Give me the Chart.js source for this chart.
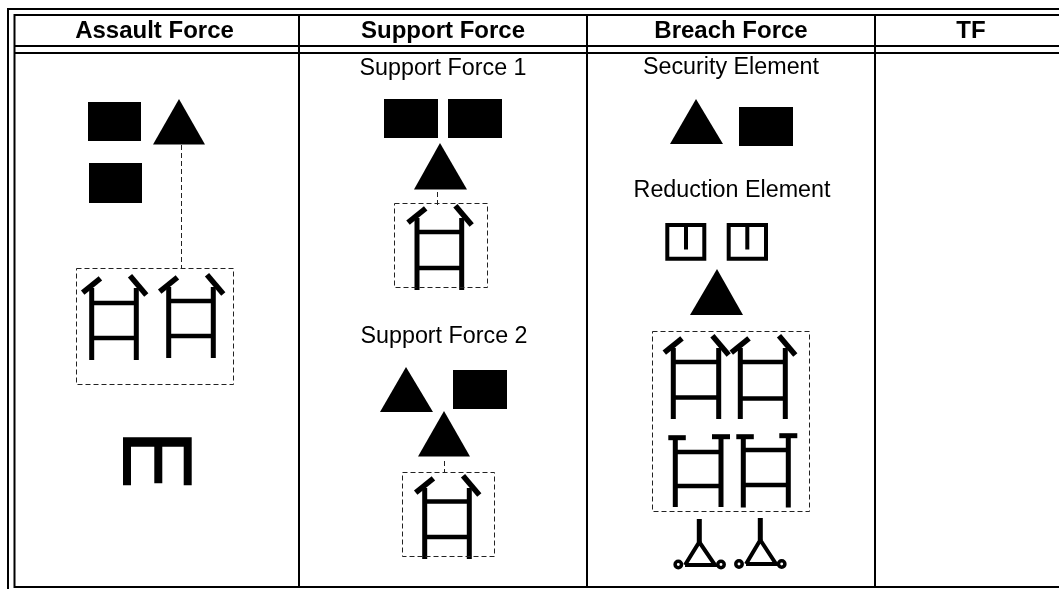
<!DOCTYPE html>
<html>
<head>
<meta charset="utf-8">
<title>Force table</title>
<script src="https://cdn.jsdelivr.net/npm/chart.js@4"></script>
<style>
  html, body { margin: 0; padding: 0; background: #fff; }
  canvas { display: block; }
</style>
</head>
<body>
<canvas id="forceChart" width="1059" height="589"></canvas>
<script>
// Table text
const headerLabels = ["Assault Force", "Support Force", "Breach Force", "TF"];
const headerX = [154.5, 443, 731, 971];
const cellLabels = ["Support Force 1", "Support Force 2", "Security Element", "Reduction Element"];
const cellLabelX = [443, 444, 731, 732];
const cellLabelY = [75, 343, 74, 197];

// Table rules
const columnRules = [299, 587, 875];
const rowRules = [15, 46, 53, 587];

// Filled units: left, right, top, bottom
const rectLeft = [88, 89, 384, 448, 453, 739];
const rectRight = [141, 142, 438, 502, 507, 793];
const rectTop = [102, 163, 99, 99, 370, 107];
const rectBottom = [141, 203, 138, 138, 409, 146];

// Filled triangles: apex and base
const triApexX = [179, 440, 406, 444, 696, 717];
const triApexY = [99, 143, 367, 411, 99, 269];
const triLeft = [153, 414, 380, 418, 670, 690];
const triRight = [205, 467, 433, 470, 723, 743];
const triBase = [144.5, 189.5, 412, 456.5, 144, 315];

// Dashed groups: left, right, top, bottom
const boxLeft = [76.5, 394.5, 402.5, 652.5];
const boxRight = [233.5, 487.5, 494.5, 809.5];
const boxTop = [268.5, 203.5, 472.5, 331.5];
const boxBottom = [384.5, 287.5, 556.5, 511.5];

// Dashed links: x, top, bottom
const linkX = [181.5, 437.5, 444.5];
const linkTop = [145, 192, 461];
const linkBottom = [268, 205, 473];

// Ladders with angled tops
const ladderLeft = [91.7, 168.7, 417, 424.7, 673.3, 740.3];
const ladderRight = [136.3, 213.3, 461.7, 469.3, 718.7, 785.3];
const ladderTop = [288, 287, 218, 488, 348, 348];
const ladderBottom = [360, 358, 290, 559, 419, 419];
const ladderRung1 = [303, 301, 232, 501.5, 362, 362];
const ladderRung2 = [338, 336, 268, 537, 397.5, 398.5];

// Ladders with flat tops
const flatLeft = [675.3, 743.3];
const flatRight = [721, 788.3];
const flatLeftBar = [437.7, 436.7];
const flatRightBar = [436.7, 435.7];
const flatBottom = [507, 507.5];
const flatRung1 = [452, 450];
const flatRung2 = [486, 485];

// Boxes with a stem
const stemBoxLeft = [667.3, 728.7];
const stemBoxRight = [704.3, 766];
const stemBoxTop = [225, 225];
const stemBoxBottom = [258.7, 258.7];
const stemBoxStem = [686, 747.3];
const stemBoxStemEnd = [249.5, 249.5];

// Wheeled triangles
const wheelStemX = [699.3, 760.3];
const wheelStemTop = [519, 518];
const wheelApexY = [542, 540];
const wheelBaseLeft = [685, 746];
const wheelBaseRight = [715, 776];
const wheelBaseY = [565, 564];
const wheelLeftX = [678.3, 739];
const wheelRightX = [721, 781.7];
const wheelY = [564.5, 564];

// Comb outline
const combX = [123, 191.7, 191.7, 183.7, 183.7, 162.3, 162.3, 154.3, 154.3, 131, 131, 123];
const combY = [437.3, 437.3, 485.3, 485.3, 446.7, 446.7, 483.3, 483.3, 446.7, 446.7, 485.3, 485.3];

const datasets = [];

function addLine(points, width, dash) {
    datasets.push({
        data: points.map(p => ({ x: p[0], y: p[1] })),
        showLine: true,
        borderColor: dash ? "#222" : "#000",
        borderWidth: width,
        borderDash: dash || [],
        borderCapStyle: "butt",
        borderJoinStyle: "miter",
        pointRadius: 0,
        fill: false,
        clip: false
    });
}

function addShape(points) {
    datasets.push({
        data: points.map(p => ({ x: p[0], y: p[1] })),
        showLine: true,
        borderColor: "transparent",
        borderWidth: 1,
        backgroundColor: "#000",
        pointRadius: 0,
        fill: "shape",
        clip: false
    });
}

// Wheels go first so they sit over the triangle lines
wheelLeftX.forEach((x, i) => {
    datasets.push({
        data: [{ x: x, y: wheelY[i] }, { x: wheelRightX[i], y: wheelY[i] }],
        showLine: false,
        pointRadius: 3.2,
        pointBorderWidth: 3.5,
        pointBorderColor: "#000",
        pointBackgroundColor: "#fff",
        clip: false
    });
});

// Table rules
addLine([[7, 9], [1059, 9]], 2);
addLine([[8, 8], [8, 589]], 2);
addLine([[14.5, 14], [14.5, 588]], 2);
rowRules.forEach(y => addLine([[14, y], [1059, y]], 2));
columnRules.forEach(x => addLine([[x, 15], [x, 588]], 2));

rectLeft.forEach((x, i) => {
    addShape([[x, rectTop[i]], [rectRight[i], rectTop[i]], [rectRight[i], rectBottom[i]], [x, rectBottom[i]]]);
});

triApexX.forEach((x, i) => {
    addShape([[x, triApexY[i]], [triRight[i], triBase[i]], [triLeft[i], triBase[i]]]);
});

boxLeft.forEach((x, i) => {
    addLine([[x, boxTop[i]], [boxRight[i], boxTop[i]], [boxRight[i], boxBottom[i]], [x, boxBottom[i]], [x, boxTop[i]]], 1, [5, 3]);
});

linkX.forEach((x, i) => {
    addLine([[x, linkTop[i]], [x, linkBottom[i]]], 1, [5, 3]);
});

ladderLeft.forEach((x, i) => {
    const r = ladderRight[i], top = ladderTop[i], bottom = ladderBottom[i];
    addLine([[x, top], [x, bottom]], 5);
    addLine([[r, top], [r, bottom]], 5);
    addLine([[x, ladderRung1[i]], [r, ladderRung1[i]]], 4.5);
    addLine([[x, ladderRung2[i]], [r, ladderRung2[i]]], 4.5);
    addLine([[x - 9, top + 4.7], [x + 8.7, top - 9.7]], 5.5);
    addLine([[r - 6.3, top - 12.3], [r + 10, top + 7]], 5.5);
});

flatLeft.forEach((x, i) => {
    const r = flatRight[i], bottom = flatBottom[i];
    addLine([[x, flatLeftBar[i]], [x, bottom]], 5);
    addLine([[r, flatRightBar[i]], [r, bottom]], 5);
    addLine([[x, flatRung1[i]], [r, flatRung1[i]]], 4.5);
    addLine([[x, flatRung2[i]], [r, flatRung2[i]]], 4.5);
    addLine([[x - 7, flatLeftBar[i]], [x + 10.5, flatLeftBar[i]]], 5);
    addLine([[r - 9, flatRightBar[i]], [r + 9, flatRightBar[i]]], 5);
});

stemBoxLeft.forEach((x, i) => {
    const r = stemBoxRight[i], top = stemBoxTop[i], bottom = stemBoxBottom[i];
    addLine([[x, top], [r, top], [r, bottom], [x, bottom], [x, top - 2]], 4);
    addLine([[stemBoxStem[i], top - 2], [stemBoxStem[i], stemBoxStemEnd[i]]], 4);
});

wheelStemX.forEach((x, i) => {
    addLine([[x, wheelStemTop[i]], [x, wheelApexY[i]]], 5);
    addLine([[wheelBaseLeft[i], wheelBaseY[i]], [x, wheelApexY[i]], [wheelBaseRight[i], wheelBaseY[i]], [wheelBaseLeft[i], wheelBaseY[i]]], 4);
});

addShape(combX.map((x, i) => [x, combY[i]]));

// Table text, placed through the chart's scales
const tableText = {
    id: "tableText",
    afterDatasetsDraw(chart) {
        const ctx = chart.ctx;
        const xScale = chart.scales.x;
        const yScale = chart.scales.y;
        ctx.save();
        ctx.fillStyle = "#000";
        ctx.textAlign = "center";
        ctx.textBaseline = "alphabetic";
        ctx.font = "bold 24px 'Liberation Sans', Arial, sans-serif";
        headerLabels.forEach((label, i) => {
            ctx.fillText(label, xScale.getPixelForValue(headerX[i]), yScale.getPixelForValue(37.5));
        });
        ctx.font = "23.3px 'Liberation Sans', Arial, sans-serif";
        cellLabels.forEach((label, i) => {
            ctx.fillText(label, xScale.getPixelForValue(cellLabelX[i]), yScale.getPixelForValue(cellLabelY[i]));
        });
        ctx.restore();
    }
};

new Chart(document.getElementById("forceChart"), {
    type: "scatter",
    data: { datasets: datasets },
    plugins: [tableText],
    options: {
        responsive: false,
        animation: false,
        layout: { padding: 0, autoPadding: false },
        plugins: { legend: { display: false }, tooltip: { enabled: false }, title: { display: false } },
        scales: {
            x: { type: "linear", min: 0, max: 1059, display: false },
            y: { type: "linear", min: 0, max: 589, reverse: true, display: false }
        }
    }
});
</script>
</body>
</html>
